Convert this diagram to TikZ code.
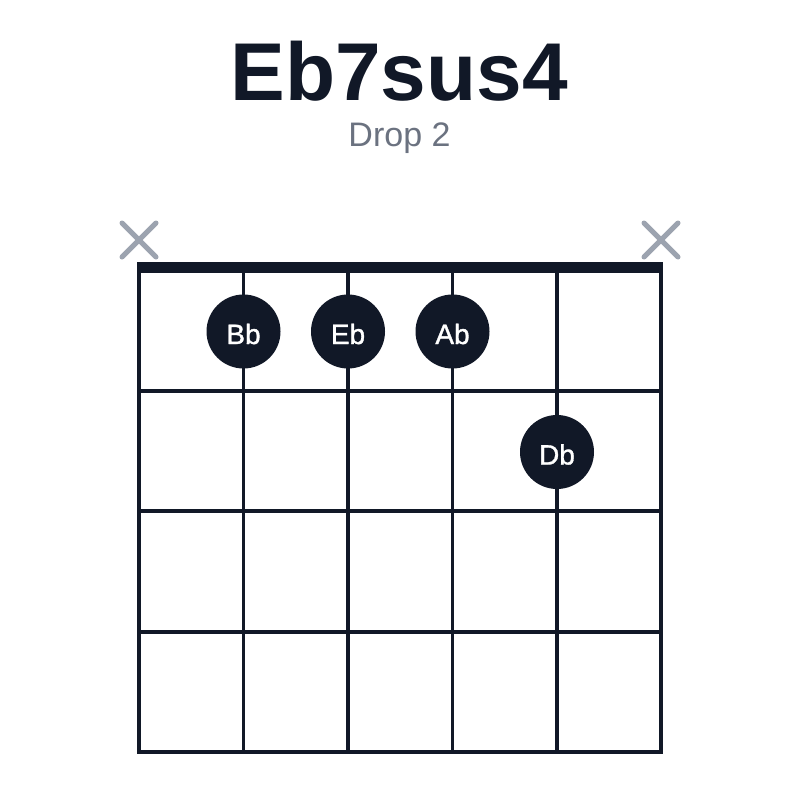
\documentclass[tikz,border=0pt]{standalone}
\usepackage{fontspec}
\setmainfont{Liberation Sans}
\newfontfamily\dotfont[FakeBold=1.2]{Liberation Sans}
\usetikzlibrary{calc}
\definecolor{ink}{HTML}{111827}
\definecolor{mute}{HTML}{9CA3AF}
\definecolor{sub}{HTML}{6B7280}
\begin{document}
\begin{tikzpicture}[x=1pt,y=-1pt,
  gridline/.style={draw=ink,line width=3.5pt,line cap=rect},
  xmark/.style={draw=mute,line width=5pt,line cap=round},
  fingerdot/.style={circle,fill=ink,minimum size=74pt,inner sep=0pt},
  dotlabel/.style={text=white,inner sep=0pt,font=\dotfont\fontsize{28}{28}\selectfont}]
\useasboundingbox (0,0) rectangle (800,800);
\fill[white] (0,0) rectangle (800,800);
% title
\node[anchor=base,text=ink,inner sep=0pt,font=\fontsize{82}{82}\selectfont\bfseries] (title) at (399,100) {Eb7sus4};
\node[anchor=base,text=sub,inner sep=0pt,font=\fontsize{34}{34}\selectfont] (subtitle) at (399.5,146) {Drop 2};
% strings
\foreach \i/\x in {1/139,2/243.5,3/348,4/452.5,5/557,6/661}{
  \coordinate (s\i) at (\x,272);
  \draw[gridline] (\x,272) -- (\x,752);
}
% frets
\foreach \y in {391,511,632,752}{
  \draw[gridline] (139,\y) -- (661,\y);
}
% nut
\fill[ink] (137,262) rectangle (663,273);
% muted strings
\foreach \x/\n in {139/xl,661/xr}{
  \coordinate (\n) at (\x,240);
  \draw[xmark] ($(\n)+(-17,-17)$) -- ($(\n)+(17,17)$);
  \draw[xmark] ($(\n)+(-17,17)$) -- ($(\n)+(17,-17)$);
}
% finger dots
\foreach \n/\x/\y/\t in {bb/243.5/331.5/Bb, eb/348/331.5/Eb, ab/452.5/331.5/Ab, db/557/452/Db}{
  \node[fingerdot] (\n) at (\x,\y) {};
  \node[dotlabel] (\n-t) at ($(\n.center)+(0,2.5)$) {\t};
}
\end{tikzpicture}
\end{document}
